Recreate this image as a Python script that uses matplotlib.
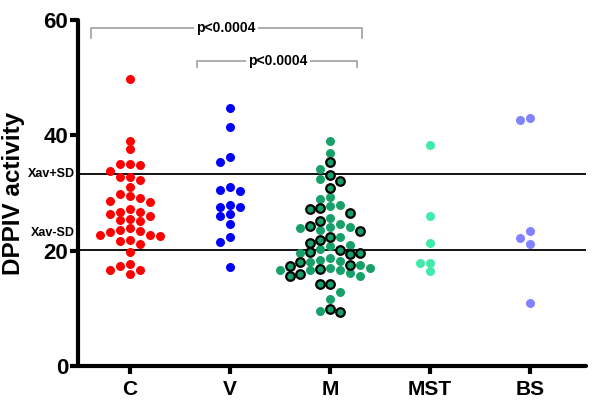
import numpy as np
import matplotlib
matplotlib.use("Agg")
import matplotlib.pyplot as plt

plt.rcParams['font.family'] = ['Liberation Sans', 'DejaVu Sans']
plt.rcParams['font.weight'] = 'bold'

categories = ['C', 'V', 'M', 'MST', 'BS']

C_vals = [49.8, 39.1, 37.6, 35.0, 34.8, 35.0, 33.9, 32.8, 32.3, 32.8, 31.0, 29.8,
          29.1, 28.6, 28.5, 27.2, 26.7, 26.4, 26.8, 26.0, 25.5, 25.2, 25.3, 24.0,
          23.6, 23.4, 22.8, 22.6, 22.8, 21.2, 21.7, 21.9, 19.8, 17.7, 16.6, 16.6,
          15.9, 17.4, 29.5, 23.2]
V_vals = [44.8, 41.5, 36.2, 35.4, 31.1, 30.3, 30.6, 27.6, 27.5, 28.0, 26.4, 26.1,
          24.6, 22.4, 21.5, 17.1]
M_green = [39.0, 37.0, 34.1, 32.4, 29.3, 28.9, 28.0, 27.8, 25.7, 24.0, 24.1, 24.6,
           24.1, 23.6, 22.3, 20.8, 21.0, 19.6, 20.3, 18.4, 17.5, 18.1, 18.2, 18.8,
           17.0, 16.6, 15.6, 16.1, 16.6, 16.6, 17.0, 12.9, 11.6, 9.5]
M_ring = [35.4, 33.2, 32.1, 30.9, 27.4, 27.2, 26.6, 25.2, 24.3, 23.4, 22.4, 21.8,
          21.4, 20.2, 19.6, 19.8, 19.4, 18.0, 17.4, 17.6, 16.9, 15.9, 15.6, 14.3,
          14.3, 9.9, 9.4]
MST_vals = [38.4, 26.0, 21.4, 17.9, 17.9, 16.4]
BS_vals = [43.1, 42.7, 23.4, 22.2, 21.1, 11.0]

xav_plus = 33.3
xav_minus = 20.1
yticks = [0, 20, 40, 60]
p_label = 'p<0.0004'


def swarm_offsets(values, step=0.1, gap=1.5, max_k=6):
    vals = np.asarray(values, dtype=float)
    order = np.argsort(-vals, kind='stable')
    placed = {}
    offs = np.zeros(len(vals))
    cand = [0]
    for k in range(1, max_k + 1):
        cand += [-k, k]
    for i in order:
        v = vals[i]
        chosen = cand[-1]
        for c in cand:
            if all(abs(v - w) >= gap for w in placed.get(c, [])):
                chosen = c
                break
        placed.setdefault(chosen, []).append(v)
        offs[i] = chosen * step
    return offs


fig = plt.figure(figsize=(6.0, 4.09), dpi=100)
ax = fig.add_axes([0.13, 0.105, 0.847, 0.846])

ms = 42
colors = {'C': '#ff0000', 'V': '#0000ff', 'M': '#18a069', 'MST': '#40eaa8', 'BS': '#8282ff'}

for name, vals in [('C', C_vals), ('V', V_vals), ('MST', MST_vals), ('BS', BS_vals)]:
    pos = categories.index(name) + 1
    off = swarm_offsets(vals)
    ax.scatter(pos + off, vals, s=ms, color=colors[name], linewidths=0, zorder=3, clip_on=False)

m_all = M_green + M_ring
off = swarm_offsets(m_all)
ng = len(M_green)
ax.scatter(3 + off[:ng], M_green, s=ms, color=colors['M'], linewidths=0, zorder=3)
ax.scatter(3 + off[ng:], M_ring, s=38, color=colors['M'], edgecolors='black',
           linewidths=1.6, zorder=4)

# reference lines
ax.axhline(xav_plus, color='black', lw=1.3, zorder=2)
ax.axhline(xav_minus, color='black', lw=1.3, zorder=2)
ax.text(-0.006, xav_plus, 'Xav+SD', transform=ax.get_yaxis_transform(), ha='right',
        va='center', fontsize=9, fontweight='bold')
ax.text(-0.006, 23.0, 'Xav-SD', transform=ax.get_yaxis_transform(), ha='right',
        va='center', fontsize=9, fontweight='bold')

# significance brackets
gray = '#a0a0a0'
ax.plot([0.61, 0.61, 3.32, 3.32], [56.9, 58.6, 58.6, 56.9], color=gray, lw=1.2,
        clip_on=False, zorder=1)
ax.text(1.96, 58.6, p_label, ha='center', va='center', fontsize=10, fontweight='bold',
        bbox=dict(facecolor='white', edgecolor='none', pad=1.5), zorder=2)
ax.plot([1.67, 1.67, 3.27, 3.27], [51.8, 52.9, 52.9, 51.8], color=gray, lw=1.2,
        clip_on=False, zorder=1)
ax.text(2.48, 52.9, p_label, ha='center', va='center', fontsize=10, fontweight='bold',
        bbox=dict(facecolor='white', edgecolor='none', pad=1.5), zorder=2)

ax.set_xlim(0.48, 5.56)
ax.set_ylim(0, 60)
ax.set_yticks(yticks)
ax.set_yticklabels([str(t) for t in yticks])
ax.set_xticks(range(1, len(categories) + 1))
ax.set_xticklabels(categories)
for s in ['top', 'right']:
    ax.spines[s].set_visible(False)
for s in ['left', 'bottom']:
    ax.spines[s].set_linewidth(3.0)
    ax.spines[s].set_capstyle('round')
ax.tick_params(axis='both', direction='out', length=6, width=3.0, color='black')
ax.tick_params(axis='y', labelsize=16, pad=1)
ax.tick_params(axis='x', labelsize=15, pad=4)
for lab in ax.get_xticklabels() + ax.get_yticklabels():
    lab.set_fontweight('bold')

ax.set_ylabel('DPPIV activity', fontsize=17.5, fontweight='bold')
ax.yaxis.set_label_coords(-0.104, 0.5)

fig.savefig('out.png', dpi=100)
